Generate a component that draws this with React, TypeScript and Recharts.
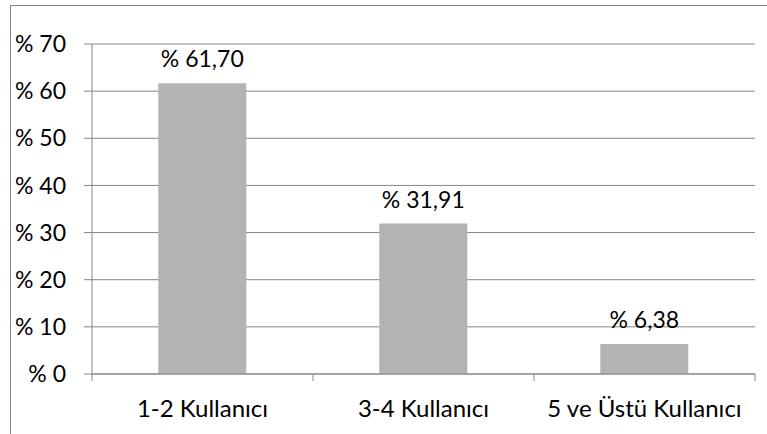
import React from "react"
import { Bar, BarChart, CartesianGrid, LabelList, XAxis, YAxis } from "recharts"

const categories = ["1-2 Kullanıcı", "3-4 Kullanıcı", "5 ve Üstü Kullanıcı"]
const percentages = [61.7, 31.91, 6.38]
const yTicks = [0, 10, 20, 30, 40, 50, 60, 70]

const data = categories.map((name, i) => ({ name, value: percentages[i] }))

const WIDTH = 767
const HEIGHT = 434
const Y_AXIS_WIDTH = 92
const MARGIN = { top: 44, right: 12, left: 0, bottom: 0 }
const FONT = "Lato, 'Open Sans', sans-serif"
const LINE = "#868686"

const band = (WIDTH - Y_AXIS_WIDTH - MARGIN.right - MARGIN.left) / categories.length

function CategoryTick(props: any) {
  const { x, y, payload, index } = props
  const axisY = y - 8
  return (
    <g>
      {index === 0 && (
        <line x1={x - band / 2} x2={x - band / 2} y1={axisY} y2={axisY + 7} stroke={LINE} />
      )}
      <line x1={x + band / 2} x2={x + band / 2} y1={axisY} y2={axisY + 7} stroke={LINE} />
      <text x={x} y={y + 35} textAnchor="middle" fill="#000" fontSize={24} fontFamily={FONT}>
        {payload.value}
      </text>
    </g>
  )
}

const formatPct = (v: any) => `% ${Number(v).toFixed(2).replace(".", ",")}`

export default function App() {
  return (
    <div style={{ position: "relative", width: WIDTH, height: HEIGHT, overflow: "hidden", background: "#fff" }}>
      <style>{"body{margin:0}"}</style>
      <div
        style={{
          position: "absolute",
          left: 10,
          top: 5,
          width: WIDTH,
          height: HEIGHT,
          borderLeft: `1px solid ${LINE}`,
          borderTop: `1px solid ${LINE}`,
        }}
      />
      <BarChart width={WIDTH} height={HEIGHT} data={data} margin={MARGIN} barCategoryGap="30%">
        <CartesianGrid vertical={false} stroke={LINE} />
        <XAxis
          dataKey="name"
          height={60}
          axisLine={{ stroke: LINE }}
          tickLine={false}
          tick={<CategoryTick />}
          interval={0}
        />
        <YAxis
          width={Y_AXIS_WIDTH}
          domain={[0, 70]}
          ticks={yTicks}
          axisLine={{ stroke: LINE }}
          tickLine={{ stroke: LINE }}
          tickSize={8}
          tickMargin={18}
          tickFormatter={(v) => `% ${v}`}
          tick={{ fill: "#000", fontSize: 23, fontFamily: FONT }}
        />
        <Bar dataKey="value" fill="#b3b3b3" isAnimationActive={false}>
          <LabelList
            dataKey="value"
            position="top"
            offset={16}
            formatter={formatPct}
            fill="#000"
            fontSize={23}
            fontFamily={FONT}
          />
        </Bar>
      </BarChart>
    </div>
  )
}
